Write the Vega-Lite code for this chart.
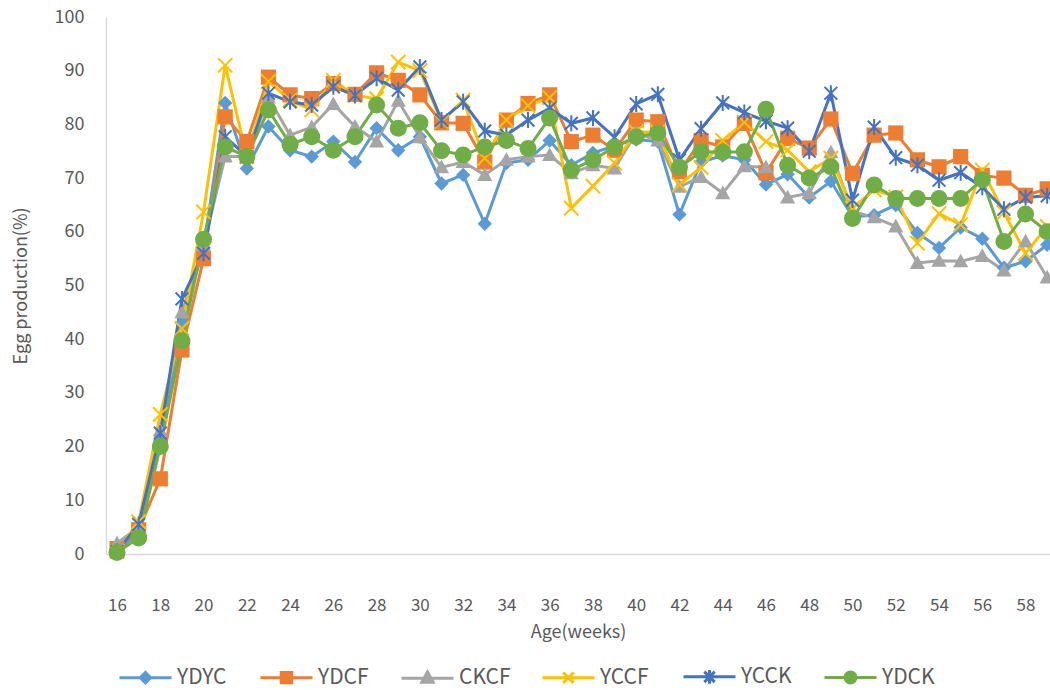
{
"$schema": "https://vega.github.io/schema/vega-lite/v6.json",
"width": 944, "height": 537,
"autosize": {"type": "none"},
"padding": {"left": 106, "top": 17, "right": 0, "bottom": 136},
"config": {"view": {"stroke": null}, "font": "Noto Sans CJK KR"},
"data": {"values": [
{"week":16,"series":"YDYC","value":0.5},{"week":16,"series":"YDCF","value":1},{"week":16,"series":"CKCF","value":2},{"week":16,"series":"YCCF","value":0.5},{"week":16,"series":"YCCK","value":0.5},{"week":16,"series":"YDCK","value":0.3},
{"week":17,"series":"YDYC","value":4},{"week":17,"series":"YDCF","value":4.5},{"week":17,"series":"CKCF","value":5},{"week":17,"series":"YCCF","value":6},{"week":17,"series":"YCCK","value":5.5},{"week":17,"series":"YDCK","value":3},
{"week":18,"series":"YDYC","value":21},{"week":18,"series":"YDCF","value":14},{"week":18,"series":"CKCF","value":23},{"week":18,"series":"YCCF","value":26},{"week":18,"series":"YCCK","value":22.5},{"week":18,"series":"YDCK","value":20},
{"week":19,"series":"YDYC","value":43},{"week":19,"series":"YDCF","value":38},{"week":19,"series":"CKCF","value":45},{"week":19,"series":"YCCF","value":42},{"week":19,"series":"YCCK","value":47.5},{"week":19,"series":"YDCK","value":39.7},
{"week":20,"series":"YDYC","value":57},{"week":20,"series":"YDCF","value":55},{"week":20,"series":"CKCF","value":57.5},{"week":20,"series":"YCCF","value":63.7},{"week":20,"series":"YCCK","value":56},{"week":20,"series":"YDCK","value":58.6},
{"week":21,"series":"YDYC","value":84},{"week":21,"series":"YDCF","value":81.4},{"week":21,"series":"CKCF","value":74},{"week":21,"series":"YCCF","value":91},{"week":21,"series":"YCCK","value":77.7},{"week":21,"series":"YDCK","value":75.8},
{"week":22,"series":"YDYC","value":71.8},{"week":22,"series":"YDCF","value":76.8},{"week":22,"series":"CKCF","value":74},{"week":22,"series":"YCCF","value":74},{"week":22,"series":"YCCK","value":74},{"week":22,"series":"YDCK","value":74},
{"week":23,"series":"YDYC","value":79.6},{"week":23,"series":"YDCF","value":88.8},{"week":23,"series":"CKCF","value":85},{"week":23,"series":"YCCF","value":88},{"week":23,"series":"YCCK","value":85.8},{"week":23,"series":"YDCK","value":82.7},
{"week":24,"series":"YDYC","value":75.2},{"week":24,"series":"YDCF","value":85.5},{"week":24,"series":"CKCF","value":78},{"week":24,"series":"YCCF","value":84.5},{"week":24,"series":"YCCK","value":84.2},{"week":24,"series":"YDCK","value":76.3},
{"week":25,"series":"YDYC","value":74},{"week":25,"series":"YDCF","value":84.8},{"week":25,"series":"CKCF","value":79.5},{"week":25,"series":"YCCF","value":82.7},{"week":25,"series":"YCCK","value":83.6},{"week":25,"series":"YDCK","value":77.7},
{"week":26,"series":"YDYC","value":76.8},{"week":26,"series":"YDCF","value":87.6},{"week":26,"series":"CKCF","value":83.8},{"week":26,"series":"YCCF","value":88.2},{"week":26,"series":"YCCK","value":87},{"week":26,"series":"YDCK","value":75.2},
{"week":27,"series":"YDYC","value":73},{"week":27,"series":"YDCF","value":85.6},{"week":27,"series":"CKCF","value":79.6},{"week":27,"series":"YCCF","value":85.4},{"week":27,"series":"YCCK","value":85.4},{"week":27,"series":"YDCK","value":77.7},
{"week":28,"series":"YDYC","value":79.3},{"week":28,"series":"YDCF","value":89.6},{"week":28,"series":"CKCF","value":76.8},{"week":28,"series":"YCCF","value":84.8},{"week":28,"series":"YCCK","value":88.6},{"week":28,"series":"YDCK","value":83.6},
{"week":29,"series":"YDYC","value":75.2},{"week":29,"series":"YDCF","value":88.2},{"week":29,"series":"CKCF","value":84.4},{"week":29,"series":"YCCF","value":91.6},{"week":29,"series":"YCCK","value":86.4},{"week":29,"series":"YDCK","value":79.3},
{"week":30,"series":"YDYC","value":77.7},{"week":30,"series":"YDCF","value":85.5},{"week":30,"series":"CKCF","value":77.6},{"week":30,"series":"YCCF","value":90},{"week":30,"series":"YCCK","value":90.7},{"week":30,"series":"YDCK","value":80.3},
{"week":31,"series":"YDYC","value":69},{"week":31,"series":"YDCF","value":80.3},{"week":31,"series":"CKCF","value":72},{"week":31,"series":"YCCF","value":80.5},{"week":31,"series":"YCCK","value":80.8},{"week":31,"series":"YDCK","value":75.1},
{"week":32,"series":"YDYC","value":70.6},{"week":32,"series":"YDCF","value":80.2},{"week":32,"series":"CKCF","value":73},{"week":32,"series":"YCCF","value":84.5},{"week":32,"series":"YCCK","value":84.2},{"week":32,"series":"YDCK","value":74.3},
{"week":33,"series":"YDYC","value":61.5},{"week":33,"series":"YDCF","value":73},{"week":33,"series":"CKCF","value":70.6},{"week":33,"series":"YCCF","value":73.7},{"week":33,"series":"YCCK","value":78.8},{"week":33,"series":"YDCK","value":75.8},
{"week":34,"series":"YDYC","value":72.8},{"week":34,"series":"YDCF","value":80.8},{"week":34,"series":"CKCF","value":73.4},{"week":34,"series":"YCCF","value":80.8},{"week":34,"series":"YCCK","value":78},{"week":34,"series":"YDCK","value":77},
{"week":35,"series":"YDYC","value":73.4},{"week":35,"series":"YDCF","value":83.9},{"week":35,"series":"CKCF","value":74},{"week":35,"series":"YCCF","value":83.5},{"week":35,"series":"YCCK","value":80.8},{"week":35,"series":"YDCK","value":75.5},
{"week":36,"series":"YDYC","value":77},{"week":36,"series":"YDCF","value":85.5},{"week":36,"series":"CKCF","value":74.3},{"week":36,"series":"YCCF","value":85},{"week":36,"series":"YCCK","value":83},{"week":36,"series":"YDCK","value":81.2},
{"week":37,"series":"YDYC","value":72.4},{"week":37,"series":"YDCF","value":76.8},{"week":37,"series":"CKCF","value":70.9},{"week":37,"series":"YCCF","value":64.4},{"week":37,"series":"YCCK","value":80.2},{"week":37,"series":"YDCK","value":71.5},
{"week":38,"series":"YDYC","value":74.7},{"week":38,"series":"YDCF","value":78},{"week":38,"series":"CKCF","value":72.4},{"week":38,"series":"YCCF","value":68.5},{"week":38,"series":"YCCK","value":81.2},{"week":38,"series":"YDCK","value":73.4},
{"week":39,"series":"YDYC","value":76},{"week":39,"series":"YDCF","value":75.2},{"week":39,"series":"CKCF","value":71.8},{"week":39,"series":"YCCF","value":72.8},{"week":39,"series":"YCCK","value":77.6},{"week":39,"series":"YDCK","value":75.8},
{"week":40,"series":"YDYC","value":77.2},{"week":40,"series":"YDCF","value":80.8},{"week":40,"series":"CKCF","value":78.4},{"week":40,"series":"YCCF","value":78.6},{"week":40,"series":"YCCK","value":83.8},{"week":40,"series":"YDCK","value":77.7},
{"week":41,"series":"YDYC","value":76.8},{"week":41,"series":"YDCF","value":80.5},{"week":41,"series":"CKCF","value":77},{"week":41,"series":"YCCF","value":78.6},{"week":41,"series":"YCCK","value":85.6},{"week":41,"series":"YDCK","value":78.4},
{"week":42,"series":"YDYC","value":63.2},{"week":42,"series":"YDCF","value":71.2},{"week":42,"series":"CKCF","value":68.4},{"week":42,"series":"YCCF","value":68.8},{"week":42,"series":"YCCK","value":73.4},{"week":42,"series":"YDCK","value":72},
{"week":43,"series":"YDYC","value":73},{"week":43,"series":"YDCF","value":77},{"week":43,"series":"CKCF","value":70.2},{"week":43,"series":"YCCF","value":72},{"week":43,"series":"YCCK","value":79.2},{"week":43,"series":"YDCK","value":74.9},
{"week":44,"series":"YDYC","value":74.2},{"week":44,"series":"YDCF","value":75.8},{"week":44,"series":"CKCF","value":67.2},{"week":44,"series":"YCCF","value":77},{"week":44,"series":"YCCK","value":84},{"week":44,"series":"YDCK","value":74.8},
{"week":45,"series":"YDYC","value":73.4},{"week":45,"series":"YDCF","value":80.2},{"week":45,"series":"CKCF","value":72.2},{"week":45,"series":"YCCF","value":80.4},{"week":45,"series":"YCCK","value":82.2},{"week":45,"series":"YDCK","value":74.9},
{"week":46,"series":"YDYC","value":68.8},{"week":46,"series":"YDCF","value":71},{"week":46,"series":"CKCF","value":72},{"week":46,"series":"YCCF","value":76.8},{"week":46,"series":"YCCK","value":80.6},{"week":46,"series":"YDCK","value":82.8},
{"week":47,"series":"YDYC","value":70.7},{"week":47,"series":"YDCF","value":77.4},{"week":47,"series":"CKCF","value":66.4},{"week":47,"series":"YCCF","value":75.2},{"week":47,"series":"YCCK","value":79.3},{"week":47,"series":"YDCK","value":72.4},
{"week":48,"series":"YDYC","value":66.4},{"week":48,"series":"YDCF","value":75.6},{"week":48,"series":"CKCF","value":67.2},{"week":48,"series":"YCCF","value":71.2},{"week":48,"series":"YCCK","value":75},{"week":48,"series":"YDCK","value":70},
{"week":49,"series":"YDYC","value":69.4},{"week":49,"series":"YDCF","value":81},{"week":49,"series":"CKCF","value":74.8},{"week":49,"series":"YCCF","value":73.7},{"week":49,"series":"YCCK","value":85.8},{"week":49,"series":"YDCK","value":72.1},
{"week":50,"series":"YDYC","value":62.8},{"week":50,"series":"YDCF","value":70.9},{"week":50,"series":"CKCF","value":63.8},{"week":50,"series":"YCCF","value":64.4},{"week":50,"series":"YCCK","value":65.9},{"week":50,"series":"YDCK","value":62.5},
{"week":51,"series":"YDYC","value":63.1},{"week":51,"series":"YDCF","value":78},{"week":51,"series":"CKCF","value":62.7},{"week":51,"series":"YCCF","value":67.8},{"week":51,"series":"YCCK","value":79.5},{"week":51,"series":"YDCK","value":68.7},
{"week":52,"series":"YDYC","value":65},{"week":52,"series":"YDCF","value":78.4},{"week":52,"series":"CKCF","value":61},{"week":52,"series":"YCCF","value":66.5},{"week":52,"series":"YCCK","value":73.8},{"week":52,"series":"YDCK","value":66.2},
{"week":53,"series":"YDYC","value":59.8},{"week":53,"series":"YDCF","value":73.4},{"week":53,"series":"CKCF","value":54.2},{"week":53,"series":"YCCF","value":57.9},{"week":53,"series":"YCCK","value":72.4},{"week":53,"series":"YDCK","value":66.2},
{"week":54,"series":"YDYC","value":57},{"week":54,"series":"YDCF","value":72.1},{"week":54,"series":"CKCF","value":54.6},{"week":54,"series":"YCCF","value":63.4},{"week":54,"series":"YCCK","value":69.6},{"week":54,"series":"YDCK","value":66.2},
{"week":55,"series":"YDYC","value":60.8},{"week":55,"series":"YDCF","value":74},{"week":55,"series":"CKCF","value":54.5},{"week":55,"series":"YCCF","value":61.3},{"week":55,"series":"YCCK","value":71},{"week":55,"series":"YDCK","value":66.2},
{"week":56,"series":"YDYC","value":58.7},{"week":56,"series":"YDCF","value":70.5},{"week":56,"series":"CKCF","value":55.5},{"week":56,"series":"YCCF","value":71.5},{"week":56,"series":"YCCK","value":68.3},{"week":56,"series":"YDCK","value":69.7},
{"week":57,"series":"YDYC","value":53.3},{"week":57,"series":"YDCF","value":70},{"week":57,"series":"CKCF","value":52.8},{"week":57,"series":"YCCF","value":63.6},{"week":57,"series":"YCCK","value":64.2},{"week":57,"series":"YDCK","value":58.2},
{"week":58,"series":"YDYC","value":54.5},{"week":58,"series":"YDCF","value":66.8},{"week":58,"series":"CKCF","value":58.2},{"week":58,"series":"YCCF","value":56},{"week":58,"series":"YCCK","value":66.4},{"week":58,"series":"YDCK","value":63.3},
{"week":59,"series":"YDYC","value":57.6},{"week":59,"series":"YDCF","value":68},{"week":59,"series":"CKCF","value":51.5},{"week":59,"series":"YCCF","value":61},{"week":59,"series":"YCCK","value":66.7},{"week":59,"series":"YDCK","value":60}
]},
"encoding": {
  "x": {"field": "week", "type": "quantitative",
    "scale": {"domain": [15.49, 59.13], "nice": false, "zero": false},
    "axis": {"values": [16,18,20,22,24,26,28,30,32,34,36,38,40,42,44,46,48,50,52,54,56,58],
      "title": "Age(weeks)", "grid": false, "ticks": false, "tickSize": 0,
      "domainColor": "#D9D9D9", "domainWidth": 1.3,
      "labelFontSize": 17, "labelColor": "#595959", "labelPadding": 43, "labelAngle": 0,
      "titleFontSize": 18, "titleFontWeight": "normal", "titleColor": "#595959", "titlePadding": 10}},
  "y": {"field": "value", "type": "quantitative",
    "scale": {"domain": [0, 100], "nice": false},
    "axis": {"values": [0,10,20,30,40,50,60,70,80,90,100],
      "title": "Egg production(%)", "grid": false, "ticks": false, "tickSize": 0,
      "domainColor": "#D9D9D9", "domainWidth": 1.3,
      "labelFontSize": 18, "labelColor": "#595959", "labelPadding": 22,
      "titleFontSize": 18, "titleFontWeight": "normal", "titleColor": "#595959", "titlePadding": 24}},
  "color": {"field": "series", "type": "nominal",
    "scale": {"domain": ["YDYC","YDCF","CKCF","YCCF","YCCK","YDCK"],
      "range": ["#5B9BD5","#ED7D31","#A5A5A5","#FFC000","#4472C4","#70AD47"]},
    "legend": null}
},
"layer": [
  {"mark": {"type": "point", "filled": false, "opacity": 0, "size": 16, "strokeWidth": 3, "clip": false},
   "encoding": {
     "color": {"field": "series", "type": "nominal",
       "legend": {"orient": "none", "legendX": 12, "legendY": 632, "direction": "horizontal", "columns": 6,
         "gridAlign": "all", "title": null, "symbolSize": 2704, "labelOffset": 4, "columnPadding": 24,
         "labelFontSize": 21, "labelColor": "#595959", "symbolOpacity": 1, "symbolStrokeWidth": 3}},
     "shape": {"field": "series", "type": "nominal",
       "scale": {"domain": ["YDYC","YDCF","CKCF","YCCF","YCCK","YDCK"],
         "range": [
           "M-1,0H1M0,-0.2L0.2,0L0,0.2L-0.2,0ZM0,-0.1L0.1,0L0,0.1L-0.1,0ZM0,-0.02L0.02,0L0,0.02L-0.02,0Z",
           "M-1,0H1M-0.2,-0.2H0.2V0.2H-0.2ZM-0.1,-0.1H0.1V0.1H-0.1ZM-0.02,-0.02H0.02V0.02H-0.02Z",
           "M-1,0H1M0,-0.24L0.22,0.15H-0.22ZM0,-0.1L0.1,0.07H-0.1Z",
           "M-1,0H1M-0.2,-0.2L0.2,0.2M-0.2,0.2L0.2,-0.2",
           "M-1,0H1M-0.2,-0.2L0.2,0.2M-0.2,0.2L0.2,-0.2M0,-0.26V0.26",
           "M-1,0H1M0.21,0A0.21,0.21,0,1,1,-0.21,0A0.21,0.21,0,1,1,0.21,0ZM0.11,0A0.11,0.11,0,1,1,-0.11,0A0.11,0.11,0,1,1,0.11,0ZM0.03,0A0.03,0.03,0,1,1,-0.03,0A0.03,0.03,0,1,1,0.03,0Z"]},
       "legend": {"orient": "none", "legendX": 12, "legendY": 632, "direction": "horizontal", "columns": 6,
         "gridAlign": "all", "title": null, "symbolSize": 2704, "labelOffset": 4, "columnPadding": 24,
         "labelFontSize": 21, "labelColor": "#595959", "symbolOpacity": 1, "symbolStrokeWidth": 3}}
   }},
  {"mark": {"type": "line", "strokeWidth": 3, "clip": false}, "encoding": {}},
  {"transform": [{"filter": {"field": "series", "equal": "YDYC"}}],
   "mark": {"type": "point", "filled": true, "opacity": 1, "size": 256, "clip": false, "shape": "M0,-0.9L0.9,0L0,0.9L-0.9,0Z"}},
  {"transform": [{"filter": {"field": "series", "equal": "YDCF"}}],
   "mark": {"type": "point", "filled": true, "opacity": 1, "size": 256, "clip": false, "shape": "M-0.95,-0.95H0.95V0.95H-0.95Z"}},
  {"transform": [{"filter": {"field": "series", "equal": "CKCF"}}],
   "mark": {"type": "point", "filled": true, "opacity": 1, "size": 256, "clip": false, "shape": "M0,-0.95L0.95,0.75H-0.95Z"}},
  {"transform": [{"filter": {"field": "series", "equal": "YCCF"}}],
   "mark": {"type": "point", "filled": false, "opacity": 1, "size": 256, "strokeWidth": 2, "clip": false, "shape": "M-0.9,-0.9L0.9,0.9M-0.9,0.9L0.9,-0.9"}},
  {"transform": [{"filter": {"field": "series", "equal": "YCCK"}}],
   "mark": {"type": "point", "filled": false, "opacity": 1, "size": 256, "strokeWidth": 2, "clip": false, "shape": "M-0.8,-0.8L0.8,0.8M-0.8,0.8L0.8,-0.8M0,-1L0,1"}},
  {"transform": [{"filter": {"field": "series", "equal": "YDCK"}}],
   "mark": {"type": "point", "filled": true, "opacity": 1, "size": 290, "clip": false, "shape": "circle"}}
]
}
